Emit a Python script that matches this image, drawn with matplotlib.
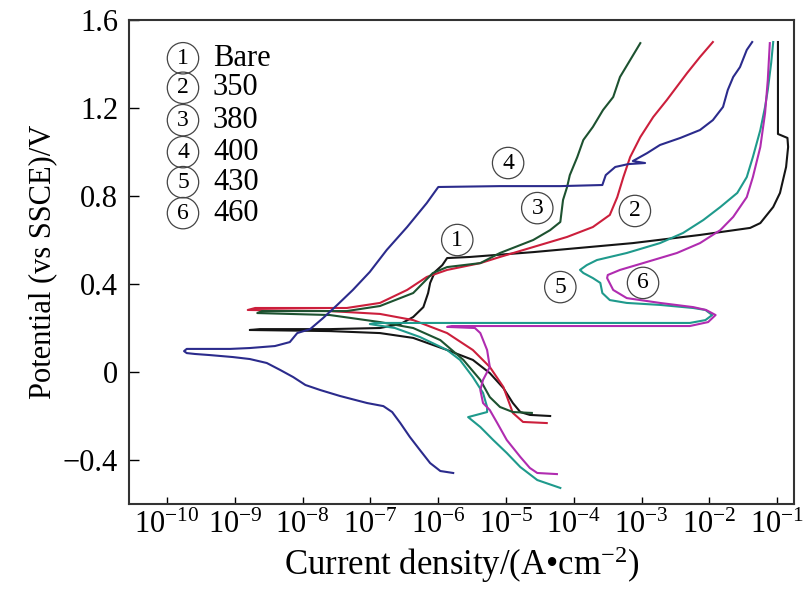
import numpy as np
import matplotlib.pyplot as plt

plt.rcParams['font.family'] = ['Liberation Serif', 'DejaVu Serif']
plt.rcParams['mathtext.fontset'] = 'custom'
plt.rcParams['mathtext.rm'] = 'Liberation Serif'
plt.rcParams['mathtext.it'] = 'Liberation Serif:italic'

# log10 of current density (A/cm2) and potential (V vs SSCE)
bare_logi = [-4.35, -4.65, -4.79, -4.90, -5.04, -5.24, -5.49, -5.87, -6.37, -6.86, -7.60, -8.78,
             -8.63, -7.60, -6.86, -6.56, -6.37, -6.22, -6.15, -6.12, -6.05, -5.94, -5.87, -5.53,
             -4.60, -3.13, -2.14, -1.40, -1.25, -1.06, -0.96, -0.87, -0.84, -0.85, -0.99, -0.99]
bare_E = [-0.200, -0.195, -0.182, -0.141, -0.073, -0.005, 0.055, 0.100, 0.155, 0.177, 0.186, 0.191,
          0.195, 0.195, 0.200, 0.218, 0.250, 0.295, 0.359, 0.405, 0.455, 0.486, 0.518, 0.523,
          0.545, 0.586, 0.623, 0.655, 0.677, 0.750, 0.814, 0.932, 1.023, 1.064, 1.082, 1.500]

s350_logi = [-4.40, -4.75, -4.90, -5.04, -5.24, -5.49, -5.87, -6.37, -6.86, -7.60, -8.81,
             -8.70, -8.04, -7.35, -6.86, -6.46, -6.17, -5.87, -5.38, -5.09, -4.60, -4.10, -3.72,
             -3.47, -3.36, -3.27, -3.17, -3.02, -2.83, -2.63, -2.33, -2.14, -1.95]
s350_E = [-0.232, -0.227, -0.186, -0.068, 0.023, 0.100, 0.177, 0.236, 0.264, 0.277, 0.282,
          0.291, 0.291, 0.291, 0.314, 0.373, 0.432, 0.464, 0.495, 0.523, 0.568, 0.614, 0.659,
          0.714, 0.795, 0.886, 0.977, 1.068, 1.159, 1.236, 1.359, 1.432, 1.500]

s380_logi = [-4.62, -4.90, -5.09, -5.24, -5.38, -5.63, -5.97, -6.37, -6.86, -7.60, -8.67,
             -8.60, -7.35, -6.86, -6.37, -6.08, -5.87, -5.38, -5.09, -4.60, -4.35, -4.20, -4.16,
             -4.10, -4.06, -3.95, -3.86, -3.72, -3.57, -3.42, -3.32, -3.17, -3.02]
s380_E = [-0.186, -0.182, -0.159, -0.114, -0.036, 0.055, 0.145, 0.200, 0.227, 0.259, 0.268,
          0.277, 0.277, 0.300, 0.359, 0.450, 0.477, 0.495, 0.541, 0.600, 0.645, 0.682, 0.782,
          0.841, 0.895, 0.977, 1.055, 1.114, 1.191, 1.250, 1.341, 1.418, 1.495]

s400_logi = [-5.78, -5.97, -6.12, -6.27, -6.42, -6.56, -6.68, -6.81, -7.05, -7.45, -7.74, -7.96,
             -8.14, -8.33, -8.53, -8.78, -9.03, -9.37, -9.59, -9.71, -9.75, -9.71, -9.51, -9.07,
             -8.78, -8.41, -8.19, -8.08, -7.89, -7.70, -7.49, -7.26, -7.01, -6.76, -6.46, -6.17,
             -6.00, -5.09, -4.20, -3.58, -3.53, -3.39, -3.20, -2.95, -3.13, -2.92, -2.73, -2.43,
             -2.14, -1.95, -1.80, -1.73, -1.65, -1.55, -1.45, -1.37]
s400_E = [-0.459, -0.450, -0.414, -0.355, -0.295, -0.232, -0.182, -0.155, -0.141, -0.109, -0.082,
          -0.059, -0.023, 0.009, 0.041, 0.059, 0.068, 0.077, 0.082, 0.086, 0.095, 0.105, 0.105,
          0.105, 0.109, 0.118, 0.136, 0.177, 0.195, 0.245, 0.305, 0.373, 0.455, 0.555, 0.659,
          0.768, 0.841, 0.845, 0.845, 0.850, 0.895, 0.932, 0.945, 0.950, 0.959, 0.995, 1.032,
          1.064, 1.100, 1.145, 1.205, 1.282, 1.341, 1.386, 1.464, 1.500]

s430_logi = [-4.20, -4.54, -4.79, -4.99, -5.19, -5.38, -5.56, -5.28, -5.28, -5.34, -5.49, -5.68,
             -5.87, -6.27, -6.64, -7.01, -6.93, -5.09, -3.61, -2.29, -2.06, -1.96, -2.06, -2.24,
             -2.73, -3.22, -3.47, -3.58, -3.61, -3.72, -3.86, -3.91, -3.81, -3.66, -3.22, -2.73,
             -2.39, -2.09, -1.84, -1.59, -1.45, -1.36, -1.25, -1.18, -1.14, -1.09, -1.06]
s430_E = [-0.527, -0.491, -0.432, -0.368, -0.309, -0.250, -0.205, -0.182, -0.159, -0.095, -0.023,
          0.055, 0.100, 0.159, 0.200, 0.218, 0.223, 0.223, 0.223, 0.223, 0.236, 0.259, 0.282,
          0.291, 0.305, 0.314, 0.327, 0.359, 0.405, 0.427, 0.450, 0.464, 0.486, 0.509, 0.541,
          0.586, 0.632, 0.691, 0.750, 0.814, 0.886, 0.977, 1.100, 1.205, 1.282, 1.405, 1.500]

s460_logi = [-4.25, -4.54, -4.65, -4.79, -4.99, -5.13, -5.24, -5.34, -5.38, -5.34, -5.24, -5.28,
             -5.38, -5.46, -5.87, -5.80, -3.61, -2.29, -2.02, -1.91, -2.05, -2.24, -2.73, -3.22,
             -3.42, -3.51, -3.50, -3.32, -2.98, -2.48, -2.14, -1.84, -1.65, -1.45, -1.36, -1.25,
             -1.18, -1.14, -1.11]
s460_E = [-0.464, -0.459, -0.436, -0.386, -0.309, -0.232, -0.173, -0.141, -0.082, -0.036, 0.023,
          0.100, 0.177, 0.200, 0.205, 0.209, 0.209, 0.209, 0.227, 0.259, 0.282, 0.295, 0.314,
          0.336, 0.373, 0.427, 0.441, 0.464, 0.495, 0.541, 0.586, 0.645, 0.705, 0.795, 0.886,
          1.023, 1.177, 1.327, 1.495]

series = [
    (bare_logi, bare_E, '#151515'),
    (s350_logi, s350_E, '#cc1f3c'),
    (s380_logi, s380_E, '#1d5230'),
    (s400_logi, s400_E, '#2b2b8c'),
    (s430_logi, s430_E, '#1f9a8c'),
    (s460_logi, s460_E, '#b02cb0'),
]

legend_marks = ['1', '2', '3', '4', '5', '6']
legend_names = ['Bare', '350', '380', '400', '430', '460']

# curve number labels: (mark, log10 i, E)
curve_tags = [('4', -4.97, 0.95), ('3', -4.54, 0.745), ('2', -3.10, 0.732),
              ('1', -5.72, 0.60), ('5', -4.20, 0.386), ('6', -2.98, 0.405)]

y_ticks = [-0.4, 0, 0.4, 0.8, 1.2, 1.6]
y_ticklabels = ['\u22120.4', '0', '0.4', '0.8', '1.2', '1.6']

fig = plt.figure(figsize=(8.07, 5.94), dpi=100)
ax = fig.add_axes([0.160, 0.1515, 0.824, 0.8148])

for logi, E, c in series:
    ax.plot(10 ** np.array(logi), E, color=c, lw=1.5)

ax.set_xscale('log')
ax.set_xlim(10 ** -10.56, 10 ** -0.752)
ax.set_ylim(-0.6, 1.6)
ax.set_xticks([10.0 ** k for k in range(-10, 0)])
ax.set_yticks(y_ticks)
ax.set_yticklabels(y_ticklabels)

ax.tick_params(axis='x', which='major', direction='in', length=5, width=1, labelsize=22, pad=5)
ax.tick_params(axis='x', which='minor', direction='in', length=3, width=0.8)
ax.tick_params(axis='y', which='major', direction='in', length=7, width=1, labelsize=22, pad=8)
for s in ax.spines.values():
    s.set_linewidth(1.5)
    s.set_color('#333333')

ax.set_xlabel('Current density/(A\u2022cm$^{-2}$)', fontsize=25, labelpad=3)
ax.set_ylabel('Potential (vs SSCE)/V', fontsize=22, labelpad=4)

circ = dict(boxstyle='circle,pad=0.22', fc='none', ec='#444444', lw=0.9)
rows = [0.921, 0.860, 0.793, 0.727, 0.665, 0.601]
for mark, name, yy in zip(legend_marks, legend_names, rows):
    ax.text(0.081, yy, mark, transform=ax.transAxes, fontsize=17, ha='center', va='center', bbox=circ)
    ax.text(0.126, yy, name, transform=ax.transAxes, fontsize=22, ha='left', va='center')

for mark, li, E in curve_tags:
    ax.text(10 ** li, E, mark, fontsize=17, ha='center', va='center', bbox=circ)

fig.savefig('out.png', dpi=100)
